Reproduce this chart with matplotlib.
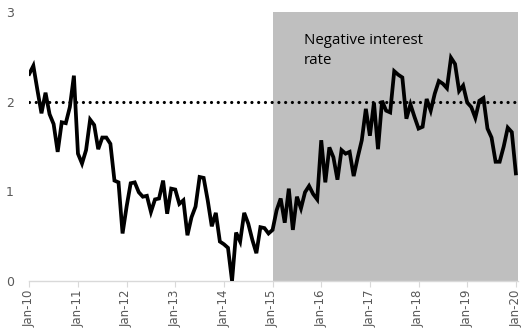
import matplotlib.pyplot as plt
import numpy as np

# monthly values, Jan-10 .. Jan-20
vals_2010 = [2.31, 2.40, 2.13, 1.87, 2.10, 1.86, 1.75, 1.44, 1.77, 1.76, 1.94, 2.29]
vals_2011 = [1.42, 1.31, 1.46, 1.80, 1.74, 1.47, 1.60, 1.60, 1.53, 1.12, 1.10, 0.53]
vals_2012 = [0.83, 1.09, 1.10, 0.99, 0.94, 0.95, 0.77, 0.91, 0.92, 1.12, 0.75, 1.03]
vals_2013 = [1.02, 0.86, 0.90, 0.51, 0.71, 0.83, 1.16, 1.15, 0.90, 0.61, 0.76, 0.44]
vals_2014 = [0.41, 0.37, 0.00, 0.54, 0.44, 0.76, 0.64, 0.46, 0.31, 0.60, 0.59, 0.53]
vals_2015 = [0.57, 0.79, 0.92, 0.65, 1.03, 0.57, 0.94, 0.81, 0.99, 1.06, 0.97, 0.91]
vals_2016 = [1.57, 1.10, 1.49, 1.38, 1.13, 1.46, 1.42, 1.44, 1.17, 1.38, 1.57, 1.92]
vals_2017 = [1.62, 1.99, 1.47, 2.01, 1.90, 1.88, 2.34, 2.30, 2.27, 1.81, 1.97, 1.83]
vals_2018 = [1.70, 1.72, 2.03, 1.90, 2.09, 2.23, 2.20, 2.15, 2.49, 2.42, 2.12, 2.18]
vals_2019 = [1.99, 1.94, 1.82, 2.01, 2.04, 1.70, 1.60, 1.33, 1.33, 1.50, 1.71, 1.66]
vals_2020 = [1.20]
series = (vals_2010 + vals_2011 + vals_2012 + vals_2013 + vals_2014 + vals_2015
          + vals_2016 + vals_2017 + vals_2018 + vals_2019 + vals_2020)

tick_labels = ["Jan-10", "Jan-11", "Jan-12", "Jan-13", "Jan-14", "Jan-15",
               "Jan-16", "Jan-17", "Jan-18", "Jan-19", "Jan-20"]
target = 2
shade_start = "Jan-15"
note = "Negative interest\nrate"

x = np.arange(len(series))
tick_pos = np.arange(len(tick_labels)) * 12
x0 = tick_pos[tick_labels.index(shade_start)]

fig = plt.figure(figsize=(5.32, 3.35), dpi=100)
ax = fig.add_axes([29.3/532, 1-281/335, (518.3-29.3)/532, (281-12)/335])

xmax = 120.6
ax.axvspan(x0, xmax, color="#bfbfbf", lw=0, zorder=0)
ax.plot([0, xmax], [target, target], color="black", lw=2.3,
        linestyle=(0, (0.01, 2.1)), dash_capstyle="round", zorder=2)
ax.plot(x, series, color="black", lw=2.7, solid_joinstyle="miter", zorder=3)

ax.text(x0 + 7.8, 2.57, note, fontsize=10.8, family="Open Sans",
        va="center", ha="left", linespacing=1.38, color="black")

ax.set_xlim(0, xmax)
ax.set_ylim(0, 3)
ax.set_yticks([0, 1, 2, 3])
ax.set_yticklabels(["0", "1", "2", "3"])
ax.set_xticks(tick_pos)
ax.set_xticklabels(tick_labels, rotation=90)

for s in ["top", "right", "left"]:
    ax.spines[s].set_visible(False)
ax.spines["bottom"].set_color("#d9d9d9")
ax.spines["bottom"].set_linewidth(1)
ax.tick_params(axis="y", length=0, pad=11, labelsize=9, labelcolor="#595959")
ax.tick_params(axis="x", length=4, color="#d9d9d9", pad=2, labelsize=8.5,
               labelcolor="#595959")

plt.savefig("out.png", dpi=100)
